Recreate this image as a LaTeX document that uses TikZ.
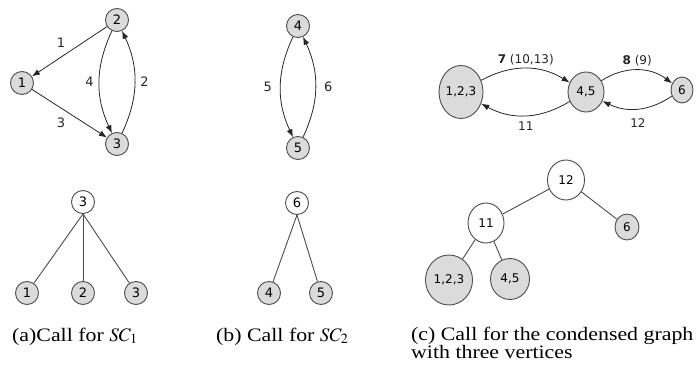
\documentclass[tikz,border=0pt]{standalone}
\usepackage{mathptmx}
\usepackage[no-math]{fontspec}
\setmainfont{Liberation Serif}[FakeStretch=1.15]
\newfontfamily\vfont{DejaVu Sans}
\usetikzlibrary{
    arrows.meta,
    positioning,
    shapes.geometric
}
\definecolor{vfill}{gray}{0.86}
\definecolor{vdraw}{gray}{0.3}
\tikzset{
    vertex/.style={
        circle,
        draw=vdraw,
        fill=vfill,
        line width=0.9pt,
        minimum size=23pt,
        inner sep=0pt,
        font=\vfont\fontsize{13}{13}\selectfont
    },
    treenode/.style={
        vertex,
        fill=white
    },
    bigvertex/.style={
        ellipse,
        draw=vdraw,
        fill=vfill,
        line width=0.9pt,
        inner sep=0pt,
        font=\vfont\fontsize{12}{12}\selectfont
    },
    bigtreenode/.style={
        bigvertex,
        fill=white
    },
    arc/.style={
        -{Latex[length=8pt,width=6pt]},
        line width=0.8pt,
        draw=black!85
    },
    treeedge/.style={
        line width=0.9pt,
        draw=vdraw
    },
    elabel/.style={
        font=\vfont\fontsize{13}{13}\selectfont,
        text=black!85
    },
    clabel/.style={
        font=\vfont\fontsize{12}{12}\selectfont,
        text=black!85
    },
    caption/.style={
        font=\fontsize{19}{18}\selectfont,
        align=left,
        inner sep=0pt
    }
}

\begin{document}
\begin{tikzpicture}[x=1pt, y=1pt, node distance=10pt, on grid]
\useasboundingbox (0,0) rectangle (698,-371);

% (a) first component and its call tree
\node[vertex] (v2) at (117,-20) {2};
\node[vertex] (v1) at (22,-83) {1};
\node[vertex, below=124pt of v2] (v3) {3};
\draw[arc] (v2) -- node[elabel, above left=1pt] {1} (v1);
\draw[arc] (v1) -- node[elabel, below left=1pt] {3} (v3);
\draw[arc] (v2) to[bend right=25] node[elabel, left=2pt] {4} (v3);
\draw[arc] (v3) to[bend right=25] node[elabel, right=2pt] {2} (v2);

\node[treenode] (r3) at (83,-202) {3};
\node[vertex, below=91pt of r3] (l2) {2};
\node[vertex, left=56pt of l2] (l1) {1};
\node[vertex, right=53pt of l2] (l3) {3};
\foreach \leaf in {l1,l2,l3}
    \draw[treeedge] (r3.south) -- (\leaf);

% (b) second component and its call tree
\node[vertex] (v4) at (298,-26) {4};
\node[vertex, below=122pt of v4] (v5) {5};
\draw[arc] (v4) to[bend right=25] node[elabel, left=5pt] {5} (v5);
\draw[arc] (v5) to[bend right=25] node[elabel, right=5pt] {6} (v4);

\node[treenode] (r6) at (297,-203) {6};
\node[vertex, below left=90pt and 28pt of r6] (l4) {4};
\node[vertex, right=52pt of l4] (l5) {5};
\foreach \leaf in {l4,l5}
    \draw[treeedge] (r6.south) -- (\leaf);

% (c) condensed graph and its call tree
\node[bigvertex, minimum width=44pt, minimum height=53pt] (c123) at (461,-92) {1,2,3};
\node[bigvertex, minimum width=36pt, minimum height=40pt, right=125pt of c123] (c45) {4,5};
\node[bigvertex, minimum width=22pt, minimum height=26pt] (c6) at (682,-90) {6};
\draw[arc] (c123) to[bend left=30] node[clabel, above] {\textbf{7} (10,13)} (c45);
\draw[arc] (c45) to[bend left=30] node[clabel, below=2pt] {11} (c123);
\draw[arc] (c45) to[bend left=35] node[clabel, above] {\textbf{8} (9)} (c6);
\draw[arc] (c6) to[bend left=30] node[clabel, below=6pt] {12} (c45);

\node[bigtreenode, minimum width=37pt, minimum height=40pt] (t12) at (566,-180) {12};
\node[bigtreenode, minimum width=36pt, minimum height=40pt] (t11) at (486,-223) {11};
\node[bigvertex, minimum width=24pt, minimum height=26pt] (t6) at (627,-227) {6};
\node[bigvertex, minimum width=47pt, minimum height=50pt] (t123) at (449,-280) {1,2,3};
\node[bigvertex, minimum width=39pt, minimum height=41pt] (t45) at (510,-279) {4,5};
\draw[treeedge] (t12) -- (t11);
\draw[treeedge] (t12) -- (t6);
\draw[treeedge] (t11) -- (t123);
\draw[treeedge] (t11) -- (t45);

% captions
\node[caption, anchor=base west] (capa) at (12,-341) {(a)Call for $SC_1$};
\node[caption, anchor=base west] (capb) at (216,-341) {(b) Call for $SC_2$};
\node[caption, anchor=north west] (capc) at (411,-327) {(c) Call for the condensed graph\\with three vertices};
\end{tikzpicture}
\end{document}
